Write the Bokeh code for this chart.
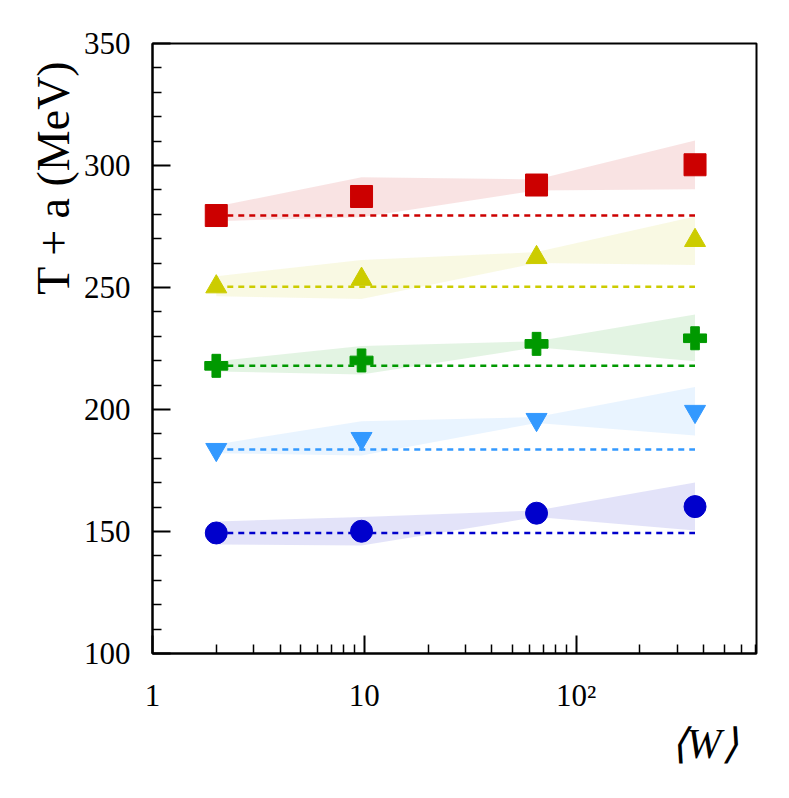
from bokeh.plotting import figure
from bokeh.models import FixedTicker, Range1d, Title
from bokeh.embed import file_html
from bokeh.resources import INLINE

# ---- data ----
W = [2.0, 9.7, 65.0, 364.0]

red_T = [279.5, 287.3, 292.0, 300.3]
red_lo = [277.2, 278.8, 289.8, 290.3]
red_hi = [283.2, 295.2, 294.3, 310.2]
red_base = 279.5

yel_T = [250.3, 253.4, 262.3, 269.3]
yel_lo = [246.4, 245.3, 260.0, 259.2]
yel_hi = [254.6, 261.3, 264.5, 279.1]
yel_base = 250.3

grn_T = [217.9, 220.1, 226.9, 229.2]
grn_lo = [215.6, 214.3, 225.5, 219.8]
grn_hi = [219.8, 226.0, 228.0, 238.9]
grn_base = 217.9

blu_T = [183.6, 188.1, 195.9, 199.2]
blu_lo = [182.1, 181.1, 194.5, 189.3]
blu_hi = [185.7, 195.2, 196.9, 209.2]
blu_base = 183.6

nav_T = [149.4, 150.1, 157.5, 160.2]
nav_lo = [144.7, 144.3, 155.9, 150.4]
nav_hi = [154.1, 155.9, 158.6, 170.1]
nav_base = 149.4

x_ticks = [1, 10, 100]
x_tick_labels = {1: "1", 10: "10", 100: "10²"}
x_minor = [2, 3, 4, 5, 6, 7, 8, 9, 20, 30, 40, 50, 60, 70, 80, 90, 200, 300, 400, 500, 600, 700]
y_ticks = [100, 150, 200, 250, 300, 350]
y_minor = [v for v in range(100, 351, 10) if v % 50 != 0]

series = [
    (red_T, red_lo, red_hi, red_base, "#CC0000", "square", 22),
    (yel_T, yel_lo, yel_hi, yel_base, "#CCCC00", "triangle", 21),
    (grn_T, grn_lo, grn_hi, grn_base, "#009900", "plus", 23),
    (blu_T, blu_lo, blu_hi, blu_base, "#3399FF", "inverted_triangle", 21),
    (nav_T, nav_lo, nav_hi, nav_base, "#0000CC", "circle", 22),
]

FONT = "Liberation Serif"

p = figure(width=778, height=788, x_axis_type="log",
           x_range=Range1d(1, 710), y_range=Range1d(100, 350),
           output_backend="svg", toolbar_location=None,
           min_border_left=152, min_border_right=22,
           min_border_top=43, min_border_bottom=135)

p.xgrid.visible = False
p.ygrid.visible = False
p.outline_line_color = "black"
p.outline_line_width = 2
p.outline_line_alpha = 1.0
p.background_fill_color = "white"
p.border_fill_color = "white"

for T, lo, hi, base, col, mk, sz in series:
    p.varea(x=W, y1=lo, y2=hi, fill_color=col, fill_alpha=0.11)
for T, lo, hi, base, col, mk, sz in series:
    p.line(x=[W[0], W[-1]], y=[base, base], line_color=col, line_width=2.5, line_dash="6 5")
for T, lo, hi, base, col, mk, sz in series:
    p.scatter(x=W, y=T, marker=mk, size=sz, fill_color=col, line_color=col, line_width=1)

for ax in (p.xaxis[0], p.yaxis[0]):
    ax.axis_line_width = 2
    ax.axis_line_color = "black"
    ax.major_tick_in = 18
    ax.major_tick_out = 0
    ax.minor_tick_in = 9
    ax.minor_tick_out = 0
    ax.major_tick_line_width = 2
    ax.minor_tick_line_width = 1.5
    ax.major_tick_line_color = "black"
    ax.minor_tick_line_color = "black"
    ax.major_label_text_font = FONT
    ax.major_label_text_font_size = "31px"
    ax.major_label_text_color = "black"

p.xaxis.ticker = FixedTicker(ticks=x_ticks, minor_ticks=x_minor)
p.xaxis.major_label_overrides = x_tick_labels
p.yaxis.ticker = FixedTicker(ticks=y_ticks, minor_ticks=y_minor)
p.xaxis.major_label_standoff = 24
p.yaxis.major_label_standoff = 22

ytitle = Title(text="T + a (MeV)", align="right", offset=17, standoff=4,
               text_font=FONT, text_font_size="46px", text_font_style="normal",
               text_color="black")
xtitle = Title(text="⟨W⟩", align="right", offset=19, standoff=6,
               text_font=FONT, text_font_size="42px", text_font_style="italic",
               text_color="black")
p.add_layout(ytitle, "left")
p.add_layout(xtitle, "below")

open("out.html", "w").write(file_html(p, INLINE))
